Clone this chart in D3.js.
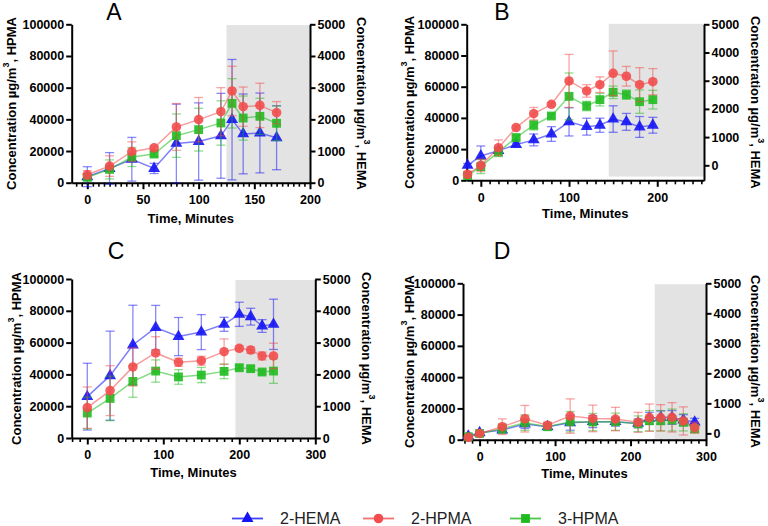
<!DOCTYPE html>
<html><head><meta charset="utf-8">
<script src="https://cdn.jsdelivr.net/npm/d3@7"></script>
<style>body{margin:0;background:#fff}</style>
</head><body>
<svg id="c" width="768" height="526" xmlns="http://www.w3.org/2000/svg"></svg>
<script>
// ---------- DATA ----------
const seriesNames = ["2-HEMA", "2-HPMA", "3-HPMA"];
const leftTicks = [0, 20000, 40000, 60000, 80000, 100000];
const rightTicks = [0, 1000, 2000, 3000, 4000, 5000];

// Panel A
const timesA = [0, 20, 40, 60, 80, 100, 120, 130, 140, 155, 170];
const hemaA = [190, 450, 740, 450, 1240, 1300, 1480, 1990, 1540, 1570, 1420];
const hemaErrA = [315, 500, 690, 160, 1240, 1220, 1340, 1900, 1260, 1260, 1010];
const hpma2A = [5000, 10500, 19600, 22000, 35200, 39800, 44800, 57900, 48000, 48800, 44200];
const hpma2ErrA = [2600, 6500, 6200, 1200, 14800, 14000, 15200, 15600, 12400, 14000, 7000];
const hpma3A = [3400, 8400, 16200, 18100, 29700, 33500, 37700, 50100, 40800, 41900, 37500];
const hpma3ErrA = [2000, 6000, 6000, 1500, 13700, 13500, 14000, 15600, 13900, 11400, 10900];
const xTicksA = [0, 50, 100, 150, 200];

// Panel B
const timesB = [-15, 0, 20, 40, 60, 80, 100, 120, 135, 150, 165, 180, 195];
const hemaB = [0, 330, 520, 733, 900, 1110, 1540, 1370, 1420, 1640, 1540, 1360, 1420];
const hemaErrB = [60, 355, 100, 60, 210, 260, 500, 300, 250, 470, 300, 370, 280];
const hpma2B = [3800, 9600, 20900, 33800, 42700, 48700, 63700, 57300, 61300, 68600, 66700, 61300, 63200];
const hpma2ErrB = [2000, 4000, 5000, 1000, 4000, 1000, 17000, 4000, 5000, 14300, 6300, 10900, 8400];
const hpma3B = [3000, 8800, 18200, 27400, 35300, 41200, 53800, 47600, 51700, 56400, 54900, 50400, 51700];
const hpma3ErrB = [1500, 4500, 3000, 1200, 3000, 1200, 15000, 3000, 4000, 4000, 3000, 7500, 6000];
const xTicksB = [0, 100, 200];

// Panel C
const timesC = [0, 30, 60, 90, 120, 150, 180, 200, 215, 230, 245];
const hemaC = [1300, 1960, 2925, 3470, 3190, 3330, 3575, 3890, 3815, 3522, 3575];
const hemaErrC = [1050, 1400, 1250, 700, 600, 550, 220, 380, 264, 200, 790];
const hpma2C = [19100, 29800, 44700, 53500, 47600, 48600, 54300, 56400, 55300, 51600, 51600];
const hpma2ErrC = [13000, 15700, 12000, 10200, 2500, 2800, 8000, 1500, 2000, 2500, 8000];
const hpma3C = [15700, 24900, 35600, 42100, 38400, 39600, 41900, 44200, 43600, 41500, 42100];
const hpma3ErrC = [10000, 14000, 10000, 7000, 4600, 4800, 4600, 1500, 1500, 1500, 7700];
const xTicksC = [0, 100, 200, 300];

// Panel D
const timesD = [-15, 0, 30, 60, 90, 120, 150, 180, 210, 225, 240, 255, 270, 285];
const hemaD = [-90, 20, 110, 310, 220, 355, 390, 390, 333, 500, 530, 530, 444, 377];
const hemaErrD = [60, 40, 80, 150, 60, 250, 200, 150, 150, 200, 220, 230, 180, 123];
const hpma2D = [1500, 4000, 8300, 13400, 9200, 15100, 13600, 13200, 11100, 14100, 14000, 14300, 12000, 7700];
const hpma2ErrD = [1000, 600, 5000, 8500, 2000, 11000, 8500, 7500, 6400, 8700, 8400, 9400, 9000, 3500];
const hpma3D = [1900, 4000, 7000, 10900, 8300, 11500, 11300, 11500, 10200, 12100, 12100, 12600, 11100, 7000];
const hpma3ErrD = [800, 500, 3000, 5000, 1500, 6500, 5500, 5500, 5000, 6500, 6500, 7000, 5500, 2500];
const xTicksD = [0, 100, 200, 300];

// ---------- LAYOUT ----------
const colors = { hema: "#1414f5", hp2: "#f24c4c", hp3: "#1fbb1f" };
const panels = [
  { title: "A", t: timesA, hema: hemaA, hemaErr: hemaErrA, hp2: hpma2A, hp2Err: hpma2ErrA, hp3: hpma3A, hp3Err: hpma3ErrA,
    xMajor: xTicksA, minorStep: 5, xDom: [-14, 200], rDom: [0, 5000], shadeX: [125, 200], shadeY: [0, 99500],
    x0: 71.7, x1: 310, yTop: 24.3, yBot: 182.7, titleX: 114, titleY: 12, lTitleX: 11, rTitleX: 362, xTitleY: 218 },
  { title: "B", t: timesB, hema: hemaB, hemaErr: hemaErrB, hp2: hpma2B, hp2Err: hpma2ErrB, hp3: hpma3B, hp3Err: hpma3ErrB,
    xMajor: xTicksB, minorStep: 10, xDom: [-16, 253], rDom: [-532, 5000], shadeX: [145, 253], shadeY: [2400, 100300],
    x0: 466.7, x1: 704, yTop: 24.3, yBot: 180.3, titleX: 502, titleY: 12, lTitleX: 409, rTitleX: 756, xTitleY: 213 },
  { title: "C", t: timesC, hema: hemaC, hemaErr: hemaErrC, hp2: hpma2C, hp2Err: hpma2ErrC, hp3: hpma3C, hp3Err: hpma3ErrC,
    xMajor: xTicksC, minorStep: 10, xDom: [-20.5, 300], rDom: [0, 5000], shadeX: [195, 300], shadeY: [0, 99400],
    x0: 71.7, x1: 315.3, yTop: 279, yBot: 438, titleX: 116, titleY: 251, lTitleX: 16, rTitleX: 367, xTitleY: 472 },
  { title: "D", t: timesD, hema: hemaD, hemaErr: hemaErrD, hp2: hpma2D, hp2Err: hpma2ErrD, hp3: hpma3D, hp3Err: hpma3ErrD,
    xMajor: xTicksD, minorStep: 10, xDom: [-22, 300], rDom: [-211, 5000], shadeX: [232, 300], shadeY: [0, 99400],
    x0: 463, x1: 706, yTop: 283.3, yBot: 439.7, titleX: 502, titleY: 251, lTitleX: 409, rTitleX: 756, xTitleY: 473 }
];

const svg = d3.select("#c");
const FONT = "'Liberation Sans', Arial, sans-serif";

function styleAxis(sel) {
  sel.select(".domain").attr("stroke", "#000").attr("stroke-width", 2);
  sel.selectAll(".tick line").attr("stroke", "#000").attr("stroke-width", 2);
  sel.selectAll(".tick text").attr("fill", "#000").style("font-family", FONT)
    .style("font-weight", "bold").style("font-size", "12.5px");
}

function yTitle(g, x, yc, rot, label) {
  const t = g.append("text")
    .attr("transform", `translate(${x},${yc}) rotate(${rot})`)
    .attr("text-anchor", "middle").attr("dominant-baseline", "central")
    .style("font-family", FONT).style("font-weight", "bold").style("font-size", "13px");
  t.append("tspan").text("Concentration µg/m");
  t.append("tspan").attr("dy", -5).style("font-size", "9px").text("3");
  t.append("tspan").attr("dy", 5).text(", " + label);
}

function drawPanel(p) {
  const g = svg.append("g");
  const x = d3.scaleLinear().domain(p.xDom).range([p.x0, p.x1]);
  const yL = d3.scaleLinear().domain([0, 100000]).range([p.yBot, p.yTop]);
  const yR = d3.scaleLinear().domain(p.rDom).range([p.yBot, p.yTop]);

  // shaded region
  g.append("rect")
    .attr("x", x(p.shadeX[0])).attr("width", x(p.shadeX[1]) - x(p.shadeX[0]))
    .attr("y", yL(p.shadeY[1])).attr("height", yL(p.shadeY[0]) - yL(p.shadeY[1]))
    .attr("fill", "#e3e3e3");

  // minor x ticks
  const minors = d3.range(Math.ceil(p.xDom[0] / p.minorStep) * p.minorStep, p.xDom[1] + 0.01, p.minorStep)
    .filter(v => !p.xMajor.includes(v));
  const gm = g.append("g").attr("transform", `translate(0,${p.yBot})`)
    .call(d3.axisBottom(x).tickValues(minors).tickSize(4).tickSizeOuter(0).tickFormat(""));
  gm.select(".domain").remove();
  gm.selectAll(".tick line").attr("stroke", "#000").attr("stroke-width", 1.6);

  const gx = g.append("g").attr("transform", `translate(0,${p.yBot})`)
    .call(d3.axisBottom(x).tickValues(p.xMajor).tickSize(6.5).tickSizeOuter(0).tickPadding(6).tickFormat(d3.format("d")));
  styleAxis(gx);

  const gl = g.append("g").attr("transform", `translate(${p.x0},0)`)
    .call(d3.axisLeft(yL).tickValues(leftTicks).tickSize(5.5).tickSizeOuter(0).tickPadding(2).tickFormat(d3.format("d")));
  styleAxis(gl);

  const gr = g.append("g").attr("transform", `translate(${p.x1},0)`)
    .call(d3.axisRight(yR).tickValues(rightTicks).tickSize(5.5).tickSizeOuter(0).tickPadding(2).tickFormat(d3.format("d")));
  styleAxis(gr);

  // titles
  g.append("text").attr("x", p.titleX).attr("y", p.titleY).attr("text-anchor", "middle")
    .attr("dominant-baseline", "central").style("font-family", FONT).style("font-size", "23px").text(p.title);
  g.append("text").attr("x", (p.x0 + p.x1) / 2).attr("y", p.xTitleY).attr("text-anchor", "middle")
    .attr("dominant-baseline", "central").style("font-family", FONT).style("font-weight", "bold")
    .style("font-size", "13px").text("Time, Minutes");
  const yc = (p.yTop + p.yBot) / 2;
  yTitle(g, p.lTitleX, yc, -90, "HPMA");
  yTitle(g, p.rTitleX, yc, 90, "HEMA");

  // series
  const series = [
    { v: p.hema, e: p.hemaErr, y: yR, c: colors.hema, sym: d3.symbolTriangle, size: 62 },
    { v: p.hp3, e: p.hp3Err, y: yL, c: colors.hp3, sym: d3.symbolSquare, size: 78 },
    { v: p.hp2, e: p.hp2Err, y: yL, c: colors.hp2, sym: d3.symbolCircle, size: 72 }
  ];
  series.forEach(s => {
    const pts = p.t.map((t, i) => ({ t, v: s.v[i], e: s.e[i] }));
    const sg = g.append("g");
    sg.append("path").datum(pts)
      .attr("d", d3.line().x(d => x(d.t)).y(d => s.y(d.v)))
      .attr("fill", "none").attr("stroke", s.c).attr("stroke-opacity", 0.55).attr("stroke-width", 1.5);
    const eb = sg.selectAll(".eb").data(pts).enter().append("g")
      .attr("stroke", s.c).attr("stroke-opacity", 0.5).attr("stroke-width", 1.3);
    eb.append("line").attr("x1", d => x(d.t)).attr("x2", d => x(d.t))
      .attr("y1", d => s.y(d.v - d.e)).attr("y2", d => s.y(d.v + d.e));
    eb.append("line").attr("x1", d => x(d.t) - 4.5).attr("x2", d => x(d.t) + 4.5)
      .attr("y1", d => s.y(d.v + d.e)).attr("y2", d => s.y(d.v + d.e));
    eb.append("line").attr("x1", d => x(d.t) - 4.5).attr("x2", d => x(d.t) + 4.5)
      .attr("y1", d => s.y(d.v - d.e)).attr("y2", d => s.y(d.v - d.e));
    sg.selectAll(".mk").data(pts).enter().append("path")
      .attr("transform", d => `translate(${x(d.t)},${s.y(d.v)})`)
      .attr("d", d3.symbol().type(s.sym).size(s.size))
      .attr("fill", s.c).attr("fill-opacity", 0.9);
  });
}

panels.forEach(drawPanel);

// legend
const legend = [
  { name: seriesNames[0], c: colors.hema, sym: d3.symbolTriangle, size: 62, x: 232 },
  { name: seriesNames[1], c: colors.hp2, sym: d3.symbolCircle, size: 72, x: 363 },
  { name: seriesNames[2], c: colors.hp3, sym: d3.symbolSquare, size: 78, x: 510 }
];
const lg = svg.append("g");
const ly = 518.5;
legend.forEach(l => {
  lg.append("line").attr("x1", l.x).attr("x2", l.x + 31).attr("y1", ly).attr("y2", ly)
    .attr("stroke", l.c).attr("stroke-width", 1.8).attr("stroke-opacity", 0.8);
  lg.append("path").attr("transform", `translate(${l.x + 15.5},${ly})`)
    .attr("d", d3.symbol().type(l.sym).size(l.size)).attr("fill", l.c);
  lg.append("text").attr("x", l.x + 48).attr("y", ly).attr("dominant-baseline", "central")
    .style("font-family", FONT).style("font-size", "16px").attr("fill", "#222").text(l.name);
});
</script>
</body></html>
